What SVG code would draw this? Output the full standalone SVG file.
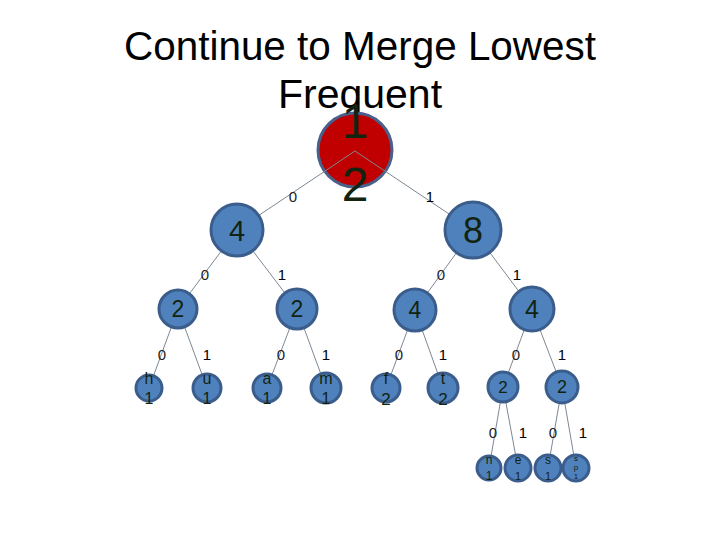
<svg xmlns="http://www.w3.org/2000/svg" width="720" height="540" viewBox="0 0 720 540">
<style>
.bg{fill:#ffffff}
.title{font-family:"Liberation Sans",Arial,sans-serif;font-size:41px;fill:#000;text-anchor:middle}
.n circle{fill:#4f81bd;stroke:#3b5d8c;stroke-width:3}
.root circle{fill:#c00000;stroke:#4a5f8a;stroke-width:3}
.t{font-family:"Liberation Sans",Arial,sans-serif;fill:#12240f;text-anchor:middle}
.e line{stroke:#7d8894;stroke-width:1}
.el{font-family:"Liberation Sans",Arial,sans-serif;font-size:15px;fill:#000;text-anchor:middle}
.el0{font-family:"Liberation Sans",Arial,sans-serif;font-size:15px;fill:#222;text-anchor:middle}
</style>
<rect class="bg" x="0" y="0" width="720" height="540"/>
<text class="title" x="360" y="60" textLength="472" lengthAdjust="spacingAndGlyphs">Continue to Merge Lowest</text>
<text class="title" x="360" y="108">Frequent</text>

<g id="connectors" class="e">
<line x1="237" y1="230" x2="178" y2="309"/>
<line x1="237" y1="230" x2="297" y2="309"/>
<line x1="473" y1="230" x2="415" y2="310"/>
<line x1="473" y1="230" x2="532" y2="309"/>
<line x1="178" y1="309" x2="149" y2="388"/>
<line x1="178" y1="309" x2="207" y2="388"/>
<line x1="297" y1="309" x2="267" y2="388"/>
<line x1="297" y1="309" x2="326" y2="388"/>
<line x1="415" y1="310" x2="386" y2="388"/>
<line x1="415" y1="310" x2="443" y2="388"/>
<line x1="532" y1="309" x2="503" y2="387"/>
<line x1="532" y1="309" x2="562" y2="387"/>
<line x1="503" y1="387" x2="489" y2="468"/>
<line x1="503" y1="387" x2="518" y2="468"/>
<line x1="562" y1="387" x2="548" y2="468"/>
<line x1="562" y1="387" x2="576" y2="468"/>
</g>

<g id="root" class="root">
<circle cx="355" cy="150" r="37"/>
<text class="t" x="355" y="138" font-size="48">1</text>
<text class="t" x="355" y="201" font-size="48">2</text>
</g>
<g id="root-edges" class="e">
<line x1="355" y1="151" x2="237" y2="230"/>
<line x1="355" y1="151" x2="473" y2="230"/>
</g>

<g id="n4" class="n"><circle cx="237" cy="230" r="26"/><text class="t" x="237" y="241" font-size="29">4</text></g>
<g id="n8" class="n"><circle cx="473" cy="230" r="28"/><text class="t" x="473" y="243" font-size="36">8</text></g>

<g id="n2a" class="n"><circle cx="178" cy="309" r="19"/><text class="t" x="178" y="317" font-size="23">2</text></g>
<g id="n2b" class="n"><circle cx="297" cy="309" r="20"/><text class="t" x="297" y="317" font-size="23">2</text></g>
<g id="n4a" class="n"><circle cx="415" cy="310" r="21"/><text class="t" x="415" y="318" font-size="23">4</text></g>
<g id="n4b" class="n"><circle cx="532" cy="309" r="22"/><text class="t" x="532" y="318" font-size="25">4</text></g>

<g id="h" class="n"><circle cx="149" cy="388" r="13"/><text class="t" x="149" y="384" font-size="16">h</text><text class="t" x="149" y="404" font-size="16">1</text></g>
<g id="u" class="n"><circle cx="207" cy="388" r="14"/><text class="t" x="207" y="384" font-size="16">u</text><text class="t" x="207" y="404" font-size="16">1</text></g>
<g id="a" class="n"><circle cx="267" cy="388" r="14"/><text class="t" x="267" y="384" font-size="16">a</text><text class="t" x="267" y="404" font-size="16">1</text></g>
<g id="m" class="n"><circle cx="326" cy="388" r="15"/><text class="t" x="326" y="384" font-size="16">m</text><text class="t" x="326" y="404" font-size="16">1</text></g>
<g id="f" class="n"><circle cx="386" cy="388" r="14"/><text class="t" x="386" y="384" font-size="16">f</text><text class="t" x="386" y="405" font-size="17">2</text></g>
<g id="t" class="n"><circle cx="443" cy="388" r="15"/><text class="t" x="443" y="384" font-size="16">t</text><text class="t" x="443" y="405" font-size="17">2</text></g>
<g id="n2c" class="n"><circle cx="503" cy="387" r="15"/><text class="t" x="503" y="393" font-size="17">2</text></g>
<g id="n2d" class="n"><circle cx="562" cy="387" r="16"/><text class="t" x="562" y="393" font-size="18">2</text></g>

<g id="n" class="n"><circle cx="489" cy="468" r="12"/><text class="t" x="489" y="464" font-size="12">n</text><text class="t" x="489" y="480" font-size="12">1</text></g>
<g id="e" class="n"><circle cx="518" cy="468" r="13"/><text class="t" x="518" y="464" font-size="12">e</text><text class="t" x="518" y="480" font-size="11">1</text></g>
<g id="s" class="n"><circle cx="548" cy="468" r="13"/><text class="t" x="548" y="464" font-size="12">s</text><text class="t" x="548" y="480" font-size="11">1</text></g>
<g id="sp" class="n"><circle cx="576" cy="468" r="13"/><text class="t" x="576" y="461" font-size="8">s</text><text class="t" x="576" y="470" font-size="8">p</text><text class="t" x="576" y="479" font-size="8">1</text></g>

<g id="edge-labels">
<text class="el0" x="293" y="202">0</text>
<text class="el" x="430" y="202">1</text>
<text class="el0" x="205" y="280">0</text>
<text class="el" x="282" y="280">1</text>
<text class="el0" x="441" y="280">0</text>
<text class="el" x="517" y="280">1</text>
<text class="el0" x="162" y="360">0</text>
<text class="el" x="207" y="360">1</text>
<text class="el0" x="281" y="360">0</text>
<text class="el" x="326" y="360">1</text>
<text class="el0" x="399" y="360">0</text>
<text class="el" x="443" y="360">1</text>
<text class="el0" x="516" y="360">0</text>
<text class="el" x="562" y="360">1</text>
<text class="el0" x="493" y="438">0</text>
<text class="el" x="523" y="438">1</text>
<text class="el0" x="553" y="438">0</text>
<text class="el" x="583" y="438">1</text>
</g>
</svg>
